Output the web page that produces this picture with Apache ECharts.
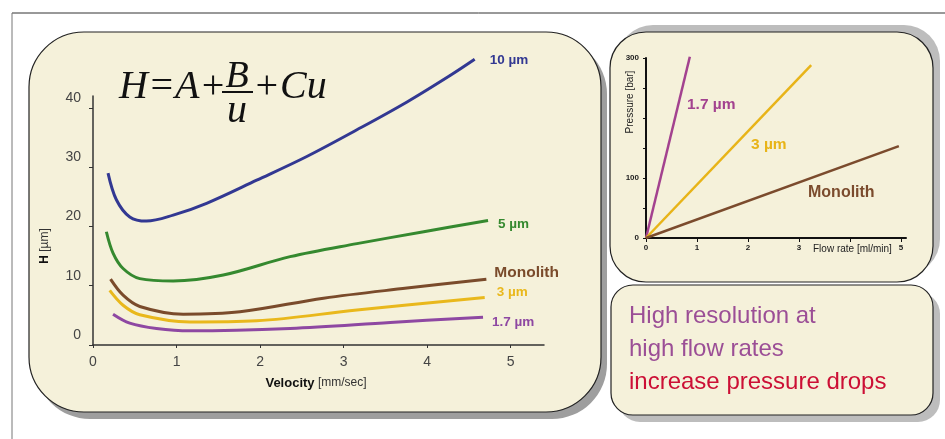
<!DOCTYPE html>
<html>
<head>
<meta charset="utf-8">
<title>Van Deemter / pressure</title>
<script src="https://cdn.jsdelivr.net/npm/echarts@6/dist/echarts.min.js"></script>
<style>
html,body{margin:0;padding:0;background:#fff;}
#chartBox{width:945px;height:439px;}
</style>
</head>
<body>
<div id="chartBox"></div>
<script>
// H vs velocity curves (left chart)
var vel10 = [0.18, 0.28, 0.44, 0.64, 0.96, 1.36, 1.96, 2.56, 3.16, 3.76, 4.28, 4.57];
var h10 = [29.0, 24.5, 21.6, 20.9, 21.9, 23.9, 27.8, 31.8, 36.3, 41.0, 45.5, 48.2];
var vel5 = [0.16, 0.24, 0.36, 0.56, 0.96, 1.56, 2.36, 3.16, 3.96, 4.73];
var h5 = [19.1, 15.5, 12.9, 11.2, 10.8, 11.8, 14.9, 17.1, 19.1, 21.0];
var velMono = [0.21, 0.36, 0.56, 1.08, 1.76, 2.76, 3.76, 4.71];
var hMono = [11.1, 8.4, 6.5, 5.2, 5.6, 7.9, 9.6, 11.1];
var vel3 = [0.20, 0.36, 0.56, 1.16, 1.96, 3.16, 4.69];
var h3 = [9.2, 6.7, 5.1, 3.9, 4.1, 5.9, 8.0];
var vel17 = [0.24, 0.44, 0.76, 1.16, 2.36, 3.56, 4.67];
var h17 = [5.2, 3.7, 2.8, 2.4, 2.8, 3.8, 4.7];

var velTicks = [0, 1, 2, 3, 4, 5];
var hTicks = [0, 10, 20, 30, 40];

// pressure vs flow rate (right chart)
var flow17 = [0, 0.86];
var press17 = [0, 302];
var flow3 = [0, 3.24];
var press3 = [0, 288];
var flowMono = [0, 4.96];
var pressMono = [0, 153];

var flowTicks = [0, 1, 2, 3, 4, 5];
var flowLabels = [0, 1, 2, 3, 5];
var pressTicks = [0, 50, 100, 150, 200, 250, 300];
var pressLabels = [0, 100, 300];

function pairs(xs, ys) {
    var out = [];
    for (var i = 0; i < xs.length; i++) out.push([xs[i], ys[i]]);
    return out;
}

var panelFill = '#f5f1da';
var sans = '"Liberation Sans", Arial, sans-serif';

window.onload = function () {
    var myChart = echarts.init(document.getElementById('chartBox'));

    // one smooth line of the left chart, with its name at the end
    function leftLine(name, data, color, dx, dy, size) {
        return {
            name: name,
            type: 'line',
            xAxisIndex: 0,
            yAxisIndex: 0,
            data: data,
            smooth: 0.35,
            showSymbol: false,
            clip: false,
            lineStyle: { color: color, width: 3 },
            endLabel: {
                show: true,
                formatter: name,
                color: color,
                fontFamily: sans,
                fontWeight: 'bold',
                fontSize: size || 13.5,
                distance: 0,
                offset: [dx, dy]
            }
        };
    }

    function rightLine(name, data, color) {
        return {
            name: name,
            type: 'line',
            xAxisIndex: 1,
            yAxisIndex: 1,
            data: data,
            showSymbol: false,
            clip: false,
            lineStyle: { color: color, width: 2.5 }
        };
    }

    // rounded box: a flat grey shadow first, then the cream box on top
    function panel(x, y, w, h, r, sx, sy, shade) {
        return [
            { type: 'rect', z: -20, shape: { x: x + sx, y: y + sy, width: w, height: h, r: r }, style: { fill: shade } },
            { type: 'rect', z: -10, shape: { x: x, y: y, width: w, height: h, r: r }, style: { fill: panelFill, stroke: '#222', lineWidth: 1.2 } }
        ];
    }

    var boxes = [].concat(
        panel(29, 32, 572, 380, 55, 6, 7, '#9e9e9e'),
        panel(610, 32, 323, 250, 36, 7, -7, '#bdbdbd'),
        panel(611, 285, 322, 130, 22, 7, 7, '#bdbdbd')
    );

    option = {
        animation: false,
        backgroundColor: '#ffffff',
        grid: [
            { left: 93, top: 96, width: 451, height: 249 },
            { left: 646, top: 58, width: 260, height: 180 }
        ],
        xAxis: [
            {
                gridIndex: 0, type: 'value', min: 0, max: 5.4, interval: 1,
                splitLine: { show: false },
                axisLine: { lineStyle: { color: '#333', width: 1.5 } },
                axisTick: { show: true, length: 3, customValues: velTicks, lineStyle: { color: '#333' } },
                axisLabel: { color: '#444', fontSize: 14, fontFamily: sans, margin: 10, customValues: velTicks }
            },
            {
                gridIndex: 1, type: 'value', min: 0, max: 5.1, interval: 1,
                splitLine: { show: false },
                axisLine: { lineStyle: { color: '#111', width: 2 } },
                axisTick: { show: true, length: 4, customValues: flowTicks, lineStyle: { color: '#111' } },
                axisLabel: { color: '#222', fontSize: 8, fontWeight: 'bold', fontFamily: sans, margin: 6, customValues: flowLabels }
            }
        ],
        yAxis: [
            {
                gridIndex: 0, type: 'value', min: 0, max: 42, interval: 10,
                splitLine: { show: false },
                axisLine: { show: true, lineStyle: { color: '#333', width: 1.5 } },
                axisTick: { show: true, length: 4, customValues: hTicks, lineStyle: { color: '#333' } },
                axisLabel: {
                    color: '#444', fontSize: 14, fontFamily: sans, margin: 12,
                    verticalAlign: 'bottom', lineHeight: 20, customValues: hTicks
                }
            },
            {
                gridIndex: 1, type: 'value', min: 0, max: 300, interval: 50,
                splitLine: { show: false },
                axisLine: { show: true, lineStyle: { color: '#111', width: 2 } },
                axisTick: { show: true, length: 3, customValues: pressTicks, lineStyle: { color: '#111' } },
                axisLabel: { color: '#222', fontSize: 8, fontWeight: 'bold', fontFamily: sans, margin: 7, customValues: pressLabels }
            }
        ],
        graphic: boxes.concat([
            // frame
            { type: 'line', shape: { x1: 12, y1: 13, x2: 945, y2: 13 }, style: { stroke: '#333', lineWidth: 1 } },
            { type: 'line', shape: { x1: 12, y1: 13, x2: 12, y2: 439 }, style: { stroke: '#777', lineWidth: 1 } },
            // formula H = A + B/u + Cu
            {
                type: 'text', left: 119, top: 67,
                style: { text: 'H=A+', font: 'italic 40px "Liberation Serif", "Times New Roman", serif', fill: '#111' }
            },
            {
                type: 'text', x: 237, y: 77, style: { text: 'B', font: 'italic 38px "Liberation Serif", serif', fill: '#111', align: 'center', verticalAlign: 'middle' }
            },
            { type: 'line', shape: { x1: 222, y1: 92, x2: 253, y2: 92 }, style: { stroke: '#111', lineWidth: 2 } },
            {
                type: 'text', x: 237, y: 111, style: { text: 'u', font: 'italic 40px "Liberation Serif", serif', fill: '#111', align: 'center', verticalAlign: 'middle' }
            },
            {
                type: 'text', left: 253, top: 67,
                style: { text: '+Cu', font: 'italic 40px "Liberation Serif", "Times New Roman", serif', fill: '#111' }
            },
            // left axis names
            {
                type: 'text', x: 45, y: 246, rotation: Math.PI / 2,
                style: {
                    text: '{b|H} [µm]', align: 'center', verticalAlign: 'middle',
                    fontFamily: sans, fontSize: 12, fill: '#333',
                    rich: { b: { fontWeight: 'bold', fontSize: 12, fontFamily: sans, fill: '#111' } }
                }
            },
            {
                type: 'text', x: 316, y: 383,
                style: {
                    text: '{b|Velocity} [mm/sec]', align: 'center', verticalAlign: 'middle',
                    fontFamily: sans, fontSize: 12, fill: '#333',
                    rich: { b: { fontWeight: 'bold', fontSize: 13, fontFamily: sans, fill: '#111' } }
                }
            },
            // right axis names
            {
                type: 'text', x: 630, y: 102, rotation: Math.PI / 2,
                style: { text: 'Pressure [bar]', align: 'center', verticalAlign: 'middle', fontFamily: sans, fontSize: 10, fill: '#222' }
            },
            {
                type: 'text', x: 813, y: 249,
                style: { text: 'Flow rate [ml/min]', align: 'left', verticalAlign: 'middle', fontFamily: sans, fontSize: 10, fill: '#222' }
            },
            // right chart line names
            {
                type: 'text', x: 687, y: 105,
                style: { text: '1.7 µm', verticalAlign: 'middle', fontFamily: sans, fontWeight: 'bold', fontSize: 15.5, fill: '#a3428f' }
            },
            {
                type: 'text', x: 751, y: 145,
                style: { text: '3 µm', verticalAlign: 'middle', fontFamily: sans, fontWeight: 'bold', fontSize: 15.5, fill: '#e8b418' }
            },
            {
                type: 'text', x: 808, y: 193,
                style: { text: 'Monolith', verticalAlign: 'middle', fontFamily: sans, fontWeight: 'bold', fontSize: 16, fill: '#7b4b2d' }
            },
            // message box
            {
                type: 'text', x: 629, y: 316,
                style: { text: 'High resolution at', verticalAlign: 'middle', fontFamily: sans, fontSize: 24, fill: '#9b4e96' }
            },
            {
                type: 'text', x: 629, y: 349,
                style: { text: 'high flow rates', verticalAlign: 'middle', fontFamily: sans, fontSize: 24, fill: '#9b4e96' }
            },
            {
                type: 'text', x: 629, y: 382,
                style: { text: 'increase pressure drops', verticalAlign: 'middle', fontFamily: sans, fontSize: 24, fill: '#cc0f35' }
            }
        ]),
        series: [
            leftLine('10 µm', pairs(vel10, h10), '#323892', 15, 1),
            leftLine('5 µm', pairs(vel5, h5), '#35892f', 10, 4),
            leftLine('Monolith', pairs(velMono, hMono), '#7a4b2b', 8, -6, 15.5),
            leftLine('3 µm', pairs(vel3, h3), '#e9b81c', 12, -5),
            leftLine('1.7 µm', pairs(vel17, h17), '#8e48a2', 9, 5),
            rightLine('1.7 µm', pairs(flow17, press17), '#a3428f'),
            rightLine('3 µm', pairs(flow3, press3), '#e8b418'),
            rightLine('Monolith', pairs(flowMono, pressMono), '#7b4b2d')
        ]
    };
    myChart.setOption(option);
};
</script>
</body>
</html>
